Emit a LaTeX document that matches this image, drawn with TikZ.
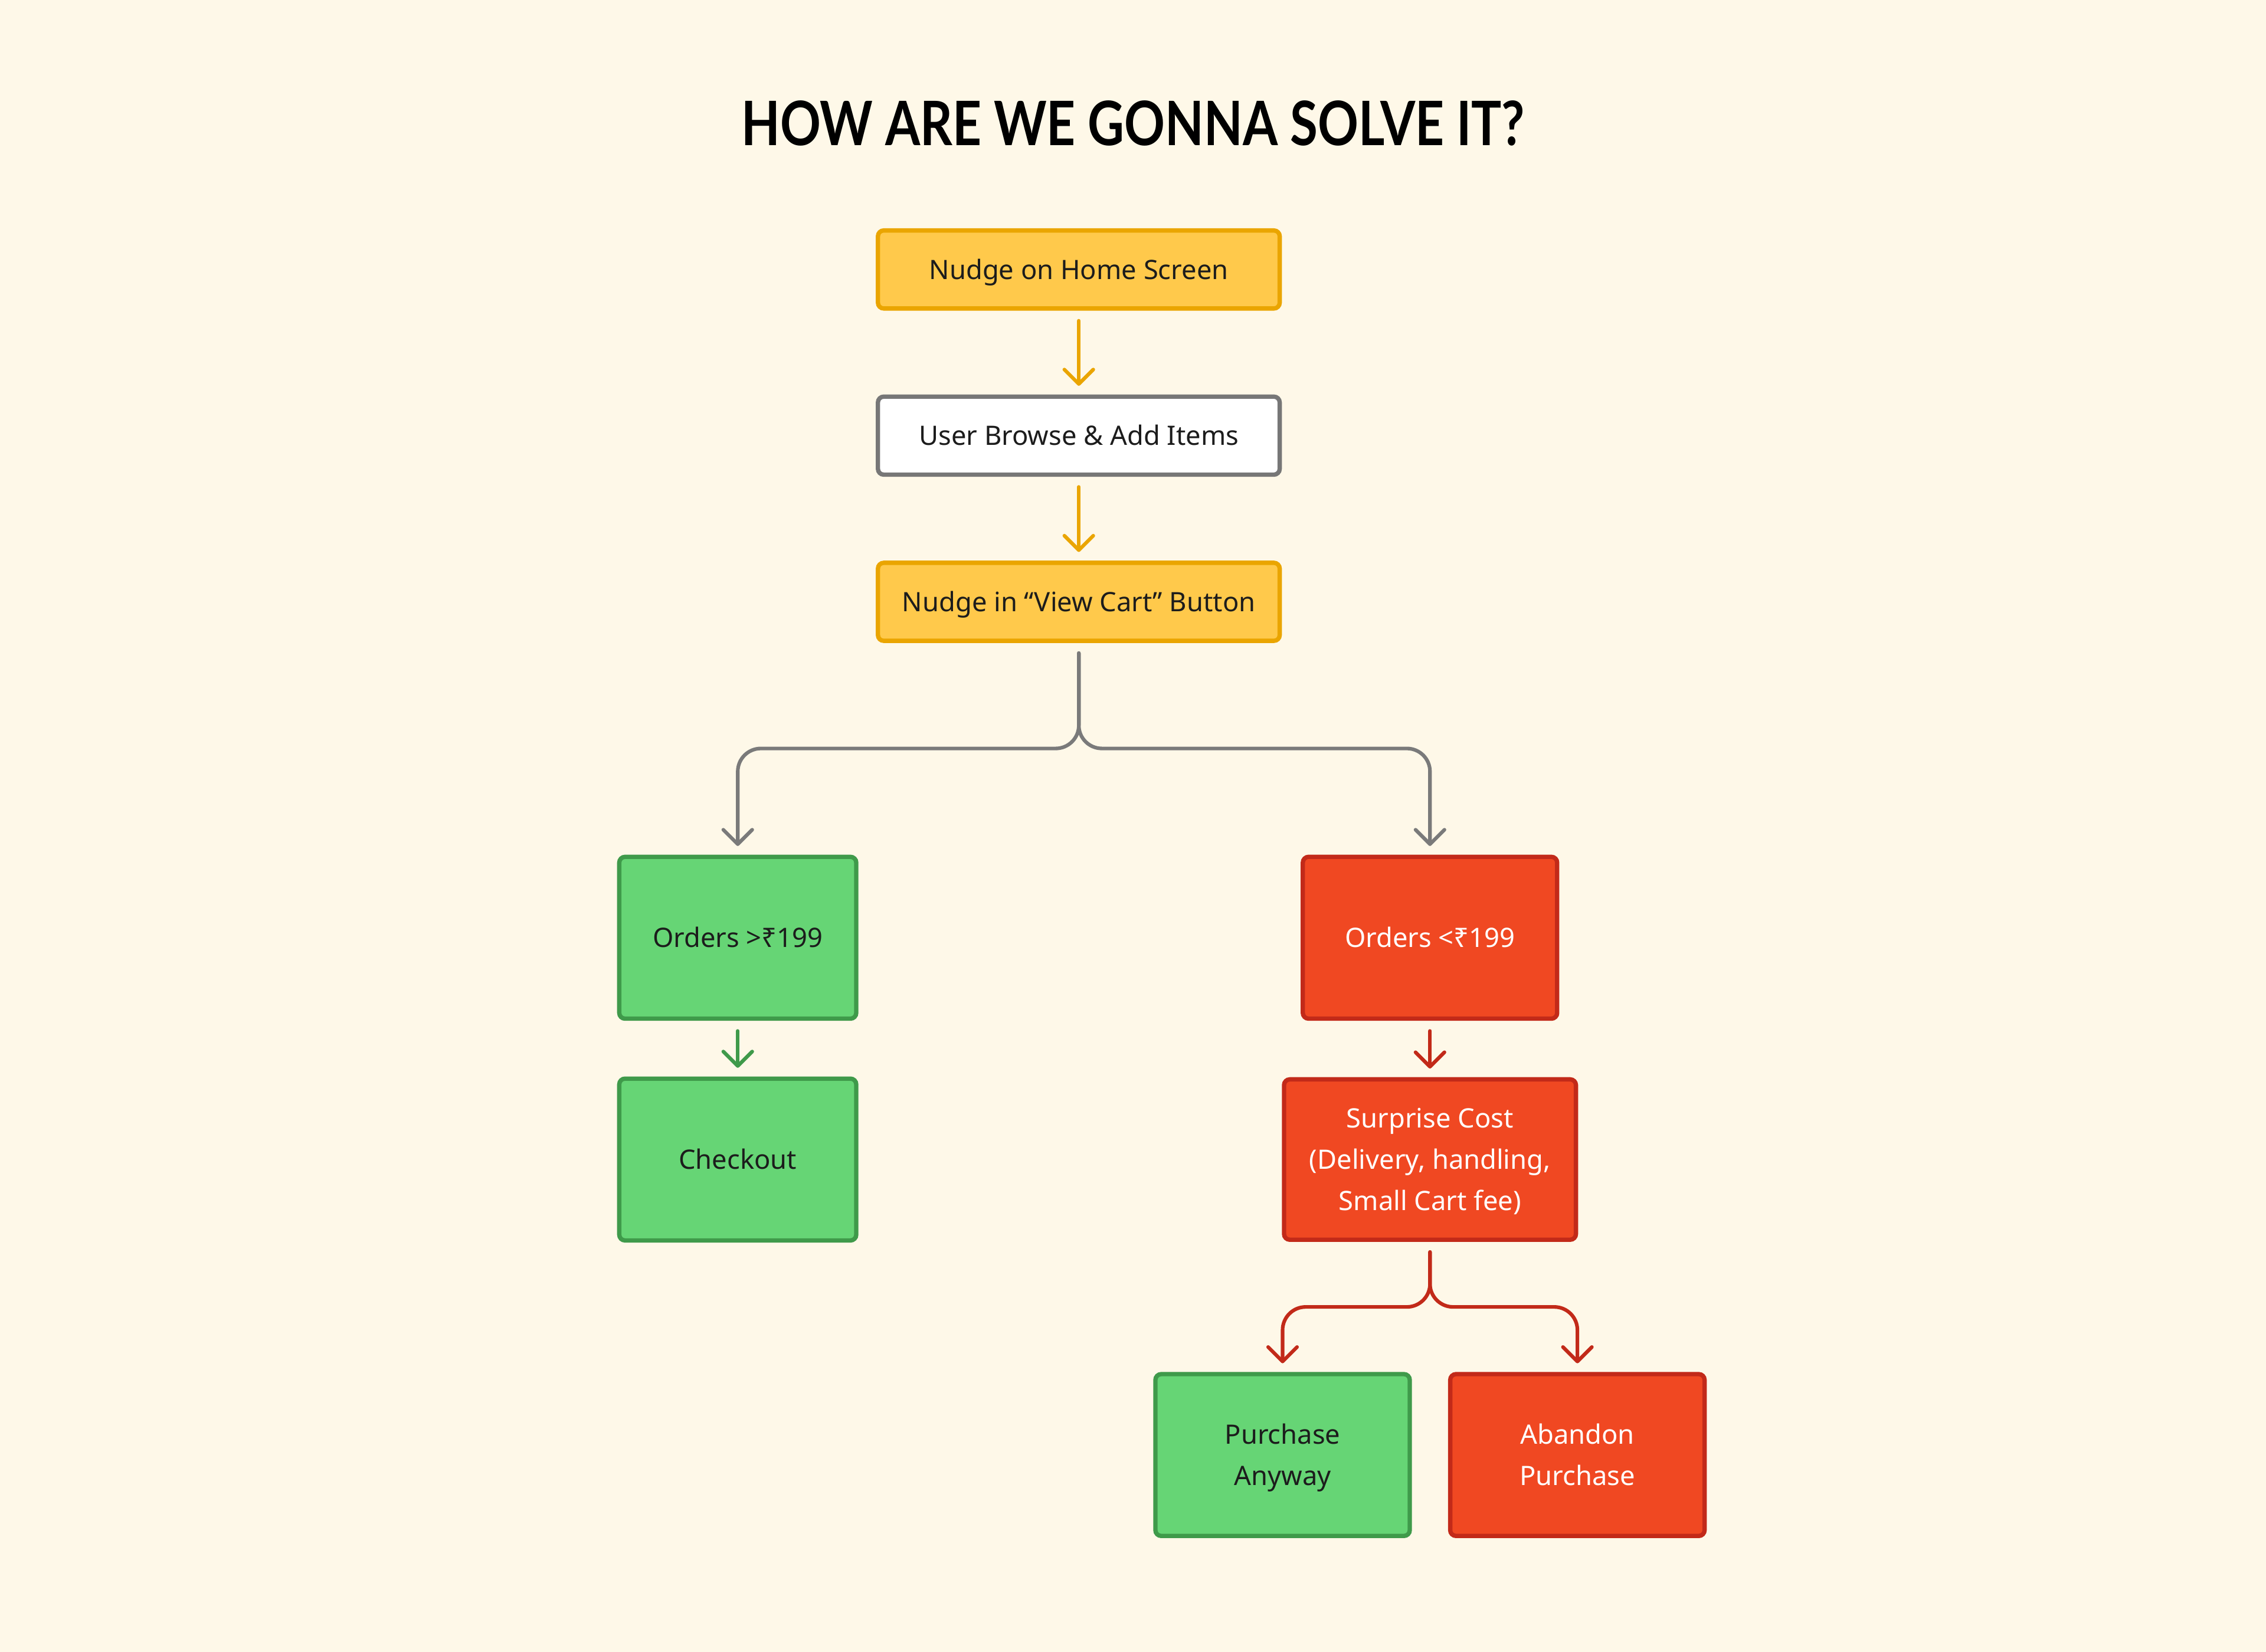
\documentclass[tikz,border=0pt]{standalone}
\usepackage{fontspec}
\setmainfont{Noto Sans}
\newfontfamily\titlefont{Lato}
\usetikzlibrary{arrows.meta}
\definecolor{bgc}{HTML}{FEF8E8}
\definecolor{yfill}{HTML}{FFC94B}
\definecolor{yline}{HTML}{EAA500}
\definecolor{wline}{HTML}{777777}
\definecolor{gfill}{HTML}{66D575}
\definecolor{gline}{HTML}{3F9A4A}
\definecolor{rfill}{HTML}{F04822}
\definecolor{rline}{HTML}{C22A19}
\definecolor{txt}{HTML}{1C1C1C}
\definecolor{conn}{HTML}{7A7A7A}
\tikzset{
  box/.style={draw, line width=3pt, rounded corners=4pt, inner sep=0pt, align=center,
    font=\fontsize{18.5}{28.7}\selectfont, text=txt, text height=13.3pt, text depth=0pt},
  twolines/.style={text height=42pt},
  threelines/.style={text height=70.7pt},
  ybox/.style={box, fill=yfill, draw=yline, minimum width=278pt, minimum height=54pt},
  wbox/.style={box, fill=white, draw=wline, minimum width=278pt, minimum height=54pt},
  gbox/.style={box, fill=gfill, draw=gline, minimum height=112pt},
  rbox/.style={box, fill=rfill, draw=rline, text=white, minimum height=112pt},
  conarr/.style={line width=2.5pt, line cap=round, line join=round,
    -{Straight Barb[length=10pt,width=20pt,round]}},
  yarr/.style={conarr, draw=yline},
  garr/.style={conarr, draw=conn, rounded corners=16pt},
  grarr/.style={conarr, draw=gline},
  rarr/.style={conarr, draw=rline},
  rbarr/.style={conarr, draw=rline, rounded corners=16pt}
}
\begin{document}
\begin{tikzpicture}[x=1pt,y=-1pt]
\useasboundingbox (0,0) rectangle (1568,1143.3);
\fill[bgc] (0,0) rectangle (1568,1143.3);

\node[inner sep=0pt, text=black] (title) at (784,85.5)
  {\resizebox{542pt}{31pt}{\titlefont\bfseries HOW ARE WE GONNA SOLVE IT?}};

\node[ybox] (b1) at (746.5,186.5) {Nudge on Home Screen};
\node[wbox] (b2) at (746.5,301.5) {User Browse \& Add Items};
\node[ybox] (b3) at (746.5,416.5) {Nudge in “View Cart” Button};

\node[gbox, minimum width=164pt] (og) at (510.5,649) {Orders >₹199};
\node[gbox, minimum width=164pt] (co) at (510.5,802.5) {Checkout};
\node[rbox, minimum width=176pt] (orr) at (989.5,649) {Orders <₹199};
\node[rbox, threelines, minimum width=202pt, minimum height=111pt] (sc) at (989.5,802.5) {Surprise Cost\\(Delivery, handling,\\Small Cart fee)};
\node[gbox, twolines, minimum width=176pt] (pa) at (887.5,1007) {Purchase\\Anyway};
\node[rbox, twolines, minimum width=176pt] (ab) at (1091.5,1007) {Abandon\\Purchase};

\draw[yarr] ([yshift=-7pt]b1.south) -- ([yshift=6pt]b2.north);
\draw[yarr] ([yshift=-7pt]b2.south) -- ([yshift=6pt]b3.north);

\draw[garr] ([yshift=-7pt]b3.south) -- ([yshift=-73pt]b3.south) -| ([yshift=6pt]og.north);
\draw[garr] ([yshift=-7pt]b3.south) -- ([yshift=-73pt]b3.south) -| ([yshift=6pt]orr.north);

\draw[grarr] ([yshift=-7pt]og.south) -- ([yshift=6pt]co.north);
\draw[rarr] ([yshift=-7pt]orr.south) -- ([yshift=6pt]sc.north);

\draw[rbarr] ([yshift=-7pt]sc.south) -- ([yshift=-45pt]sc.south) -| ([yshift=6pt]pa.north);
\draw[rbarr] ([yshift=-7pt]sc.south) -- ([yshift=-45pt]sc.south) -| ([yshift=6pt]ab.north);
\end{tikzpicture}
\end{document}
